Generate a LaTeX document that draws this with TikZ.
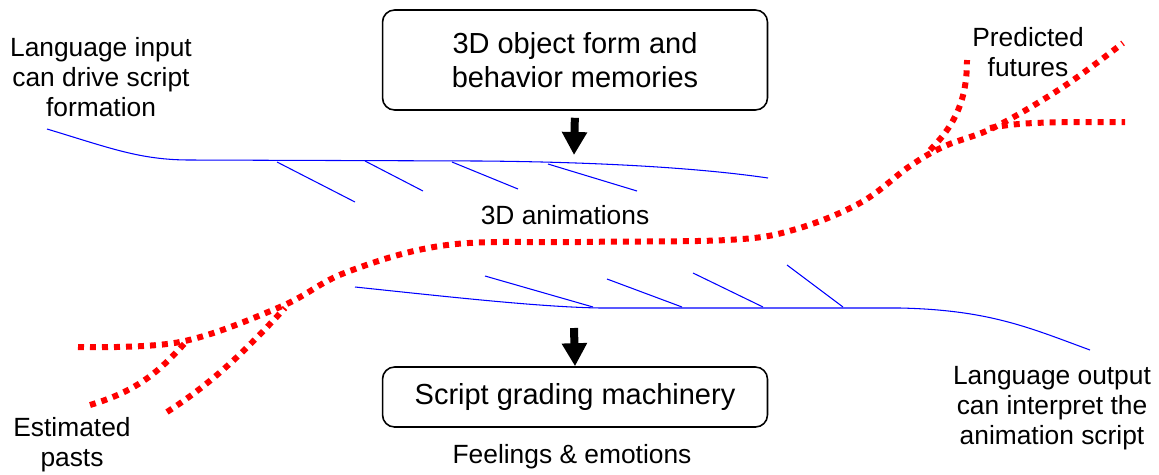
\documentclass[tikz,border=0pt]{standalone}
\usepackage{fontspec}
\setmainfont{Liberation Sans}
\usepackage{xcolor}
\usetikzlibrary{arrows.meta}
\definecolor{PureRed}{RGB}{255, 0, 0}
\definecolor{PureBlue}{RGB}{0, 0, 255}
\colorlet{TimeRed}{PureRed}
\colorlet{ScriptBlue}{PureBlue}

\begin{document}
\begin{tikzpicture}[x = 0.02cm, y = -0.02cm]
                    \useasboundingbox (0, 0) rectangle (1159, 474);

                    \coordinate (AnimTop) at (574, 155);
                    \coordinate (AnimBot) at (574, 328);

                    % boxes
                    \begin{scope}[
                        every node/.style = {
                            shape           = rectangle,
                            rounded corners = 0.24cm,
                            draw            = black,
                            line width      = 0.9pt,
                            minimum width   = 7.7cm,
                            align           = center,
                            font            = \fontsize{16.5}{19}\selectfont,
                        }
                    ]
                        \node (Memories) at (575, 60)  [minimum height = 2cm]   {3D object form and\\behavior memories};
                        \node (Grading)  at (575, 397) [minimum height = 1.2cm] {Script grading machinery};
                    \end{scope}

                    \begin{scope}[
                        line width = 0.16cm,
                        -{Triangle[width = 0.48cm, length = 0.46cm]},
                    ]
                        \draw[shorten <= 0.14cm] (Memories.south) -- (AnimTop);
                        \draw (AnimBot) -- (Grading.north);
                    \end{scope}

                    % labels
                    \begin{scope}[
                        every node/.style = {
                            align     = center,
                            inner sep = 0pt,
                            font      = \fontsize{15}{17}\selectfont,
                        }
                    ]
                        \node (InputLbl)   at (101, 77)  {Language input\\can drive script\\formation};
                        \node (FuturesLbl) at (1028, 52) {Predicted\\futures};
                        \node (PastsLbl)   at (72, 445)  {Estimated\\pasts};
                        \node (OutputLbl)  at (1052, 408) {Language output\\can interpret the\\animation script};
                        \node (AnimLbl)    at (565, 215) {3D animations};
                        \node (FeelLbl)    at (572, 457) {Feelings \& emotions};
                    \end{scope}

                    % script rails
                    \begin{scope}[draw = ScriptBlue, line width = 0.6pt]
                        \draw (47, 129) .. controls (110, 148) and (140, 160) .. (190, 160)
                            -- (480, 161) .. controls (600, 162) and (700, 168) .. (768, 178);
                        \draw (277, 162) -- (355, 202);
                        \draw (365, 161) -- (423, 191);
                        \draw (452, 162) -- (518, 189);
                        \draw (548, 164) -- (637, 191);

                        \draw (355, 287) .. controls (450, 297) and (540, 307) .. (600, 308)
                            -- (900, 308) .. controls (990, 310) and (1030, 328) .. (1090, 350);
                        \draw (485, 276) -- (593, 307);
                        \draw (607, 279) -- (682, 307);
                        \draw (693, 273) -- (763, 307);
                        \draw (787, 265) -- (843, 307);
                    \end{scope}

                    % timeline
                    \begin{scope}[
                        draw         = TimeRed,
                        line width   = 0.12cm,
                        dash pattern = on 0.12cm off 0.12cm,
                    ]
                        \draw plot[smooth, tension = 0.6] coordinates {
                            (78, 347) (180, 342) (280, 307) (347, 272) (447, 245) (580, 242)
                            (727, 240) (793, 230) (860, 203) (910, 166) (945, 146) (995, 127)
                            (1063, 87) (1123, 43)};
                        \draw (930, 150) .. controls (955, 125) and (967, 100) .. (967, 60);
                        \draw (990, 128) .. controls (1020, 122) and (1050, 122) .. (1125, 122);
                        \draw (90, 405) .. controls (140, 390) and (160, 370) .. (185, 343);
                        \draw (167, 412) .. controls (220, 378) and (255, 340) .. (285, 308);
                    \end{scope}
                \end{tikzpicture}
\end{document}
